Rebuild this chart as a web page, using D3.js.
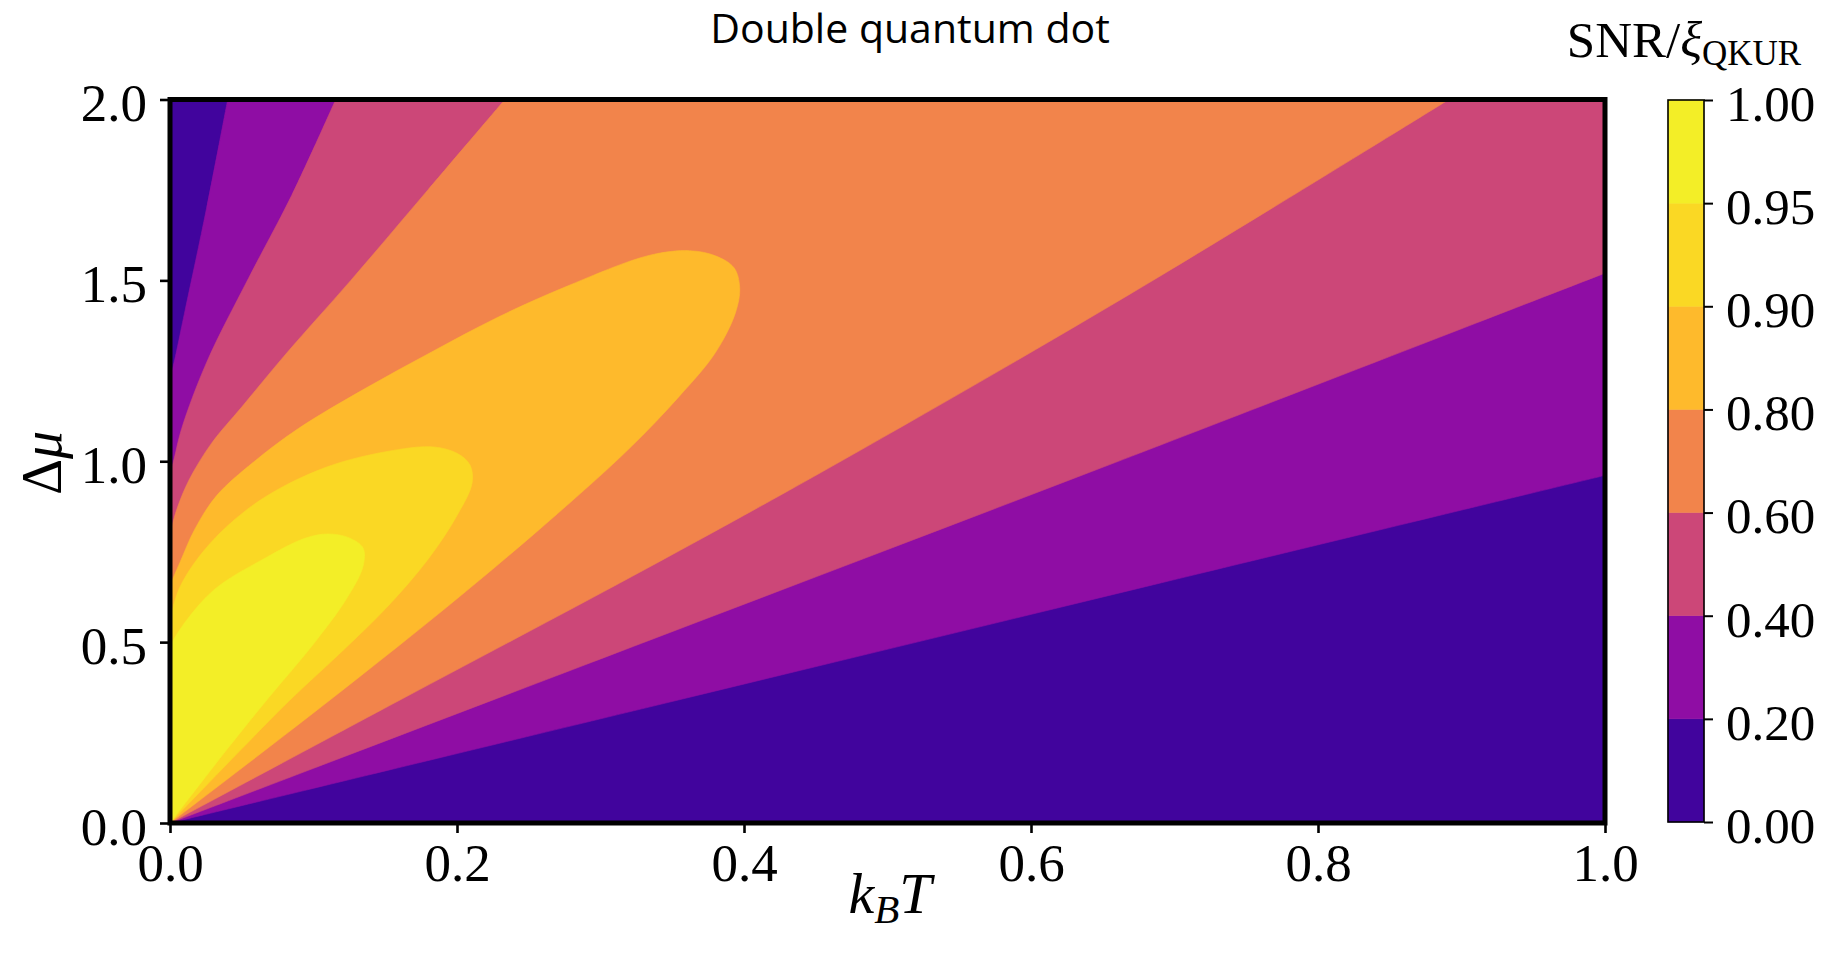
<!DOCTYPE html>
<html><head><meta charset="utf-8">
<script src="https://cdn.jsdelivr.net/npm/d3@7"></script>
<style>body{margin:0;background:#fff} svg{display:block}</style>
</head><body>
<svg id="chart" width="1821" height="962"></svg>
<script>
// ---- data ----
const levels = [0, 0.2, 0.4, 0.6, 0.8, 0.9, 0.95, 1.0];
const cbarTickLabels = ["0.00","0.20","0.40","0.60","0.80","0.90","0.95","1.00"];
const xTicks = [0, 0.2, 0.4, 0.6, 0.8, 1.0];
const yTicks = [0, 0.5, 1.0, 1.5, 2.0];
const xDomain = [0, 1];
const yDomain = [0, 2];

// contour lines, points are [k_B T, Δμ]
const c020_lower = [[0,0],[0.3338,0.3204],[0.669,0.643],[1,0.961]];
const c020_upper = [[0.0402,2.0],[0.0255,1.70],[0.0105,1.417],[0.002,1.26],[0,1.235]];
const c040_lower = [[0,0],[0.3338,0.5046],[0.659,0.997],[1,1.52]];
const c040_upper = [[0.1155,2.0],[0.0848,1.735],[0.0546,1.505],[0.0256,1.274],[0.0081,1.09],[0.0023,0.998],[0,0.97]];
const c060_lower = [[0,0],[0.1603,0.34],[0.3338,0.707],[0.4662,0.997],[0.6683,1.4604],[0.8913,2.0]];
const c060_upper = [[0.2334,2.0],[0.1797,1.75],[0.126,1.5],[0.0815,1.3],[0.05,1.15],[0.029,1.05],[0.0135,0.95],[0.005,0.87],[0,0.80]];
const c080_loop = [[0,0],[0.1115,0.34],[0.2,0.62],[0.27,0.855],[0.32,1.035],[0.355,1.18],[0.38,1.30],[0.394,1.41],[0.397,1.48],[0.393,1.535],[0.38,1.568],[0.362,1.582],[0.3338,1.569],[0.2753,1.4815],[0.2288,1.3987],[0.1823,1.302],[0.1359,1.2008],[0.0894,1.0902],[0.058,0.997],[0.0325,0.905],[0.0174,0.813],[0.007,0.721],[0,0.657]];
const c090_loop = [[0,0],[0.05,0.205],[0.0836,0.34],[0.12,0.475],[0.152,0.6],[0.18,0.73],[0.2,0.85],[0.2105,0.94],[0.209,0.99],[0.2,1.022],[0.1835,1.0396],[0.1556,1.030],[0.1092,0.984],[0.0627,0.892],[0.0279,0.7726],[0.007,0.653],[0,0.561]];
const c095_loop = [[0,0],[0.04,0.205],[0.0674,0.34],[0.1,0.495],[0.123,0.62],[0.1345,0.71],[0.1345,0.76],[0.125,0.788],[0.11,0.799],[0.094,0.787],[0.0662,0.732],[0.0314,0.647],[0.0105,0.555],[0,0.49]];

// ---- layout ----
const svg = d3.select("#chart");
const L = 170, R = 1605, T = 99.5, B = 823;
const x = d3.scaleLinear().domain(xDomain).range([L, R]);
const y = d3.scaleLinear().domain(yDomain).range([B, T]);

const layerMid = d3.range(levels.length - 1).map(i => (levels[i] + levels[i+1]) / 2);
const colors = layerMid.map(v => d3.interpolatePlasma(v));

const smoothLine = d3.line().x(p => x(p[0])).y(p => y(p[1])).curve(d3.curveCatmullRom.alpha(0.5));
function regionPath(segments){
  let d = "";
  segments.forEach((s, i) => {
    let sd;
    if (s.smooth) {
      sd = smoothLine(s.pts);
      if (i > 0) sd = "L" + sd.slice(1);
    } else {
      sd = s.pts.map((p, j) => ((i === 0 && j === 0) ? "M" : "L") + x(p[0]) + "," + y(p[1])).join("");
    }
    d += sd;
  });
  return d + "Z";
}

const corners = [[xDomain[0],yDomain[0]],[xDomain[1],yDomain[0]],[xDomain[1],yDomain[1]],[xDomain[0],yDomain[1]]];
const topRight = [[xDomain[1], yDomain[1]]];
const regions = [
  [{pts: corners, smooth:false}],
  [{pts: c020_lower, smooth:true}, {pts: topRight, smooth:false}, {pts: c020_upper, smooth:true}],
  [{pts: c040_lower, smooth:true}, {pts: topRight, smooth:false}, {pts: c040_upper, smooth:true}],
  [{pts: c060_lower, smooth:true}, {pts: c060_upper, smooth:true}],
  [{pts: c080_loop, smooth:true}],
  [{pts: c090_loop, smooth:true}],
  [{pts: c095_loop, smooth:true}]
];

svg.append("defs").append("clipPath").attr("id","plotclip")
  .append("rect").attr("x", L).attr("y", T).attr("width", R - L).attr("height", B - T);

const gPlot = svg.append("g").attr("clip-path", "url(#plotclip)");
gPlot.selectAll("path.band").data(regions).join("path")
  .attr("class","band")
  .attr("d", d => regionPath(d))
  .attr("fill", (d, i) => colors[i])
  .attr("stroke", (d, i) => colors[i])
  .attr("stroke-width", 0.6);

// ---- axes ----
const serif = "'Liberation Serif', 'Times New Roman', serif";
const xAxis = d3.axisBottom(x).tickValues(xTicks).tickFormat(d3.format(".1f")).tickSize(10).tickPadding(10);
const yAxis = d3.axisLeft(y).tickValues(yTicks).tickFormat(d3.format(".1f")).tickSize(10).tickPadding(13);

const gx = svg.append("g").attr("transform", `translate(0,${B})`).call(xAxis);
const gy = svg.append("g").attr("transform", `translate(${L},0)`).call(yAxis);
[gx, gy].forEach(g => {
  g.select(".domain").remove();
  g.selectAll(".tick line").attr("stroke", "#000").attr("stroke-width", 2.6);
  g.selectAll(".tick text").attr("font-family", serif).attr("font-size", 53).attr("fill", "#000");
});
gy.selectAll(".tick text").attr("dy", "0.4em");

// spines
svg.append("rect").attr("x", L).attr("y", T).attr("width", R - L).attr("height", B - T)
  .attr("fill", "none").attr("stroke", "#000").attr("stroke-width", 5);

// axis labels
const xl = svg.append("text").attr("x", 890).attr("y", 913).attr("text-anchor", "middle")
  .attr("font-family", serif).attr("font-size", 58).attr("fill", "#000");
xl.append("tspan").attr("font-style", "italic").text("k");
xl.append("tspan").attr("font-style", "italic").attr("font-size", 41).attr("dy", 10).text("B");
xl.append("tspan").attr("font-style", "italic").attr("dy", -10).text("T");

const yl = svg.append("text").attr("transform", "translate(61,463) rotate(-90)").attr("text-anchor", "middle")
  .attr("font-family", serif).attr("font-size", 56).attr("fill", "#000");
yl.append("tspan").text("Δ");
yl.append("tspan").attr("font-style", "italic").text("μ");

// title
svg.append("text").attr("x", 910).attr("y", 43).attr("text-anchor", "middle")
  .attr("font-family", "'Open Sans', sans-serif").attr("font-size", 41).attr("fill", "#000")
  .text("Double quantum dot");

// ---- colorbar ----
const cbL = 1668, cbR = 1704, cbT = 100, cbB = 822;
const cbY = d3.scaleLinear().domain([0, levels.length - 1]).range([cbB, cbT]);
svg.append("g").selectAll("rect").data(colors).join("rect")
  .attr("x", cbL).attr("width", cbR - cbL)
  .attr("y", (d, i) => cbY(i + 1)).attr("height", (d, i) => cbY(i) - cbY(i + 1))
  .attr("fill", d => d).attr("stroke", d => d).attr("stroke-width", 0.5);
svg.append("rect").attr("x", cbL).attr("y", cbT).attr("width", cbR - cbL).attr("height", cbB - cbT)
  .attr("fill", "none").attr("stroke", "#000").attr("stroke-width", 1.6);
const cbAxis = d3.axisRight(cbY).tickValues(d3.range(levels.length)).tickFormat(i => cbarTickLabels[i]).tickSize(9).tickPadding(13);
const gcb = svg.append("g").attr("transform", `translate(${cbR},0)`).call(cbAxis);
gcb.select(".domain").remove();
gcb.selectAll(".tick line").attr("stroke", "#000").attr("stroke-width", 2);
gcb.selectAll(".tick text").attr("font-family", serif).attr("font-size", 51).attr("fill", "#000").attr("dy", "0.4em");

const ct = svg.append("text").attr("x", 1684).attr("y", 57).attr("text-anchor", "middle")
  .attr("font-family", serif).attr("font-size", 51).attr("fill", "#000");
ct.append("tspan").text("SNR/");
ct.append("tspan").attr("font-style", "italic").text("ξ");
ct.append("tspan").attr("font-size", 35).attr("dy", 8).text("QKUR");
</script>
</body></html>
